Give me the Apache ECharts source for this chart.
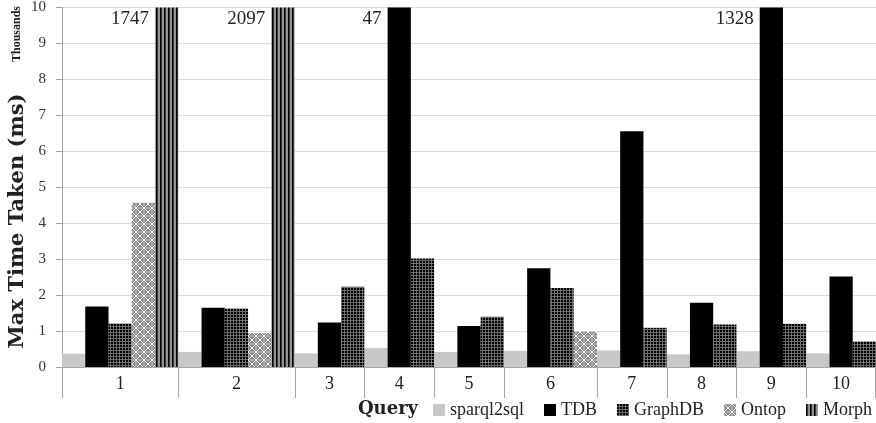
<!DOCTYPE html>
<html><head><meta charset="utf-8">
<script src="https://cdn.jsdelivr.net/npm/echarts@6/dist/echarts.min.js"></script>
<style>html,body{margin:0;padding:0;background:#fff}#c{width:876px;height:423px}</style>
</head><body><div id="c"></div>
<script>
// ---- data (values in thousands of ms) ----
const queries = ['1','2','3','4','5','6','7','8','9','10'];
const seriesNames = ['sparql2sql','TDB','GraphDB','Ontop','Morph'];
const sparql2sql = [0.37, 0.42, 0.38, 0.53, 0.42, 0.45, 0.46, 0.35, 0.44, 0.38];
const tdb        = [1.68, 1.65, 1.24, 47,   1.14, 2.75, 6.56, 1.79, 1328, 2.52];
const graphdb    = [1.21, 1.63, 2.23, 3.02, 1.40, 2.20, 1.09, 1.18, 1.20, 0.71];
const ontop      = [4.57, 0.94, null, null, null, 0.98, null, null, null, null];
const morph      = [1747, 2097, null, null, null, null, null, null, null, null];
const yTicks = [0,1,2,3,4,5,6,7,8,9,10];

// ---- patterns ----
function tile(w, h, fn) {
  const c = document.createElement('canvas'); c.width = w; c.height = h;
  const ctx = c.getContext('2d');
  for (let y = 0; y < h; y++) for (let x = 0; x < w; x++) { ctx.fillStyle = fn(x, y); ctx.fillRect(x, y, 1, 1); }
  return { image: c, repeat: 'repeat' };
}
const graphPat = tile(3, 3, (x, y) => (x < 2 && y < 2) ? '#000' : '#6e6e6e');
const ontopPat = tile(8, 8, (x, y) => {
  if (x === y || x + y === 7) return '#f4f4f4';
  if ((x === 0 || x === 7) && (y >= 2 && y <= 5)) return '#b0b0b0';
  if ((y === 0 || y === 7) && (x >= 2 && x <= 5)) return '#b0b0b0';
  return '#858585';
});
const morphPat = tile(4, 4, (x) => ['#000', '#3a3a3a', '#8e8e8e', '#969696'][x]);
const fills = ['#c8c8c8', '#000000', graphPat, ontopPat, morphPat];

// ---- build slots: one slot per present bar ----
const all = [sparql2sql, tdb, graphdb, ontop, morph];
const yMax = yTicks[yTicks.length - 1];
const slotCats = [];
const seriesData = all.map(() => []);
const groups = [];
queries.forEach((q, qi) => {
  const start = slotCats.length;
  all.forEach((arr, si) => {
    if (arr[qi] != null) {
      slotCats.push(q + ':' + seriesNames[si]);
      all.forEach((_, sj) => {
        if (sj !== si) { seriesData[sj].push('-'); return; }
        const v = arr[qi];
        seriesData[sj].push(v > yMax ? { value: v, label: { show: true } } : v);
      });
    }
  });
  groups.push([start, 0, slotCats.length - start]);
});

const FONT = '"Liberation Serif", "Times New Roman", serif';
const barSeries = seriesNames.map((name, i) => ({
  name, type: 'bar', data: seriesData[i],
  barGap: '-100%', barCategoryGap: '0%',
  itemStyle: { color: fills[i] },
  label: {
    show: false, position: [-6, 2], align: 'right', verticalAlign: 'top',
    fontFamily: FONT, fontSize: 19, color: '#222',
    formatter: p => String(p.value)
  },
  emphasis: { disabled: true }
}));

const chart = echarts.init(document.getElementById('c'), null, { renderer: 'canvas' });
chart.setOption({
  animation: false,
  backgroundColor: '#fff',
  textStyle: { fontFamily: FONT },
  grid: { left: 62, right: 0, top: 4, bottom: 56, containLabel: false },
  legend: {
    data: seriesNames, left: 433, top: 401, width: 480, padding: 0, icon: 'rect',
    itemWidth: 12, itemHeight: 12, itemGap: 20,
    textStyle: { fontFamily: FONT, fontSize: 18, color: '#222' }
  },
  graphic: [
    { type: 'text', x: 18, y: 221, rotation: Math.PI / 2,
      style: { text: 'Max Time Taken (ms)', align: 'center', verticalAlign: 'middle',
        font: 'bold 21px "DejaVu Serif", serif', fill: '#222' } },
    { type: 'text', x: 17, y: 34, rotation: Math.PI / 2,
      style: { text: 'Thousands', align: 'center', verticalAlign: 'middle',
        font: 'bold 12px "Liberation Serif", serif', fill: '#222' } },
    { type: 'text', x: 388, y: 409,
      style: { text: 'Query', align: 'center', verticalAlign: 'middle',
        font: 'bold 18px "DejaVu Serif", serif', fill: '#222' } }
  ],
  xAxis: {
    type: 'category', data: slotCats, boundaryGap: true,
    axisLine: { show: true, lineStyle: { color: '#a6a6a6', width: 1 } },
    axisTick: { show: false }, axisLabel: { show: false }, splitLine: { show: false }
  },
  yAxis: {
    type: 'value', min: yTicks[0], max: yMax, interval: 1,
    axisLine: { show: true, lineStyle: { color: '#a6a6a6' } },
    axisTick: { show: true, length: 6, inside: false, lineStyle: { color: '#a6a6a6' } },
    axisLabel: { margin: 16, fontFamily: FONT, fontSize: 15, color: '#333' },
    splitLine: { show: true, lineStyle: { color: '#dcdcdc', width: 1 } }
  },
  series: barSeries.concat([{
    type: 'custom', name: 'axisGroups', data: groups, clip: false, silent: true,
    encode: { x: 0, y: 1 }, z: 5,
    renderItem: (params, api) => {
      const start = api.value(0), count = api.value(2);
      const p = api.coord([start, 0]);
      const bw = api.size([1, 0])[0];
      const x0 = p[0] - bw / 2, x1 = x0 + count * bw, y0 = p[1];
      const ln = (x) => ({ type: 'line', shape: { x1: Math.round(x) + 0.5, y1: y0, x2: Math.round(x) + 0.5, y2: y0 + 31 },
        style: { stroke: '#a6a6a6', lineWidth: 1 } });
      const ch = [ln(x0), {
        type: 'text', style: { text: queries[params.dataIndex], x: (x0 + x1) / 2, y: y0 + 17,
          align: 'center', verticalAlign: 'middle', font: '18px ' + FONT, fill: '#222' } }];
      if (params.dataIndex === groups.length - 1) ch.push(ln(x1 - 1));
      return { type: 'group', children: ch };
    }
  }])
});
</script>
</body></html>
